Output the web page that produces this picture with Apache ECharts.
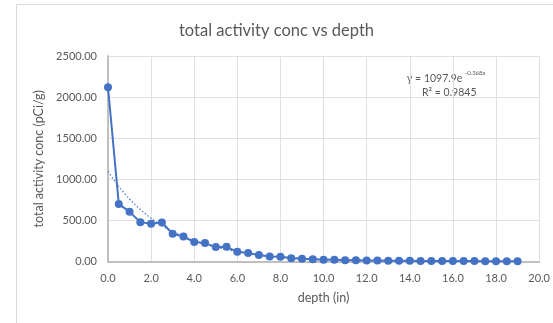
<!DOCTYPE html>
<html><head><meta charset="utf-8">
<script src="https://cdn.jsdelivr.net/npm/echarts@6/dist/echarts.min.js"></script>
<style>html,body{margin:0;padding:0;background:#fff;}#c{width:553px;height:323px;}</style>
</head><body><div id="c"></div>
<script>
const depths = [0,0.5,1,1.5,2,2.5,3,3.5,4,4.5,5,5.5,6,6.5,7,7.5,8,8.5,9,9.5,10,10.5,11,11.5,12,12.5,13,13.5,14,14.5,15,15.5,16,16.5,17,17.5,18,18.5,19];
const activity = [2120,701,604,479,458,474,337,304,236,224,175,179,118,102,78,60,58,40,32,28,22,22,16,14,12,11,10,9,8,7,7,6,6,5,5,4,4,4,3];
const trendA = 1097.9, trendB = -0.368;
const xTicks = [0,2,4,6,8,10,12,14,16,18,20];
const yTicks = [0,500,1000,1500,2000,2500];

const trend = [];
for (let i = 0; i <= 190; i++) { const x = i / 10; trend.push([x, trendA * Math.exp(trendB * x)]); }

const chart = echarts.init(document.getElementById('c'));
const txt = '#595959';
chart.setOption({
  animation: false,
  graphic: [{type:'rect', shape:{x:16.5,y:4.5,width:560,height:340}, style:{fill:'none', stroke:'#d9d9d9', lineWidth:1}},
    {type:'text', left:407, top:73, style:{text:'y = 1097.9e', font:'10.5px Lato, sans-serif', fill:txt}},
    {type:'text', left:465, top:70, style:{text:'-0.368x', font:'6px Lato, sans-serif', fill:txt}},
    {type:'text', left:422, top:87, style:{text:'R² = 0.9845', font:'10.5px Lato, sans-serif', fill:txt}}],
  title: {text:'total activity conc vs depth', left:'center', top:17, textStyle:{fontFamily:'Lato', fontSize:16.5, fontWeight:'normal', color:txt}},
  grid: {left:108, right:9.5, top:56, bottom:61.5},
  xAxis: {type:'value', min:xTicks[0], max:xTicks[xTicks.length-1], interval:2,
    name:'depth (in)', nameLocation:'middle', nameGap:30, nameTextStyle:{fontFamily:'Lato', fontSize:12.5, color:txt},
    axisLine:{lineStyle:{color:'#bfbfbf', width:2}}, axisTick:{show:false},
    axisLabel:{fontFamily:'Lato', fontSize:11, color:txt, margin:11, formatter:v=>v.toFixed(1)},
    splitLine:{lineStyle:{color:'#e0e0e0', width:1}}},
  yAxis: {type:'value', min:yTicks[0], max:yTicks[yTicks.length-1], interval:500,
    name:'total activity conc (pCi/g)', nameLocation:'middle', nameGap:58, nameTextStyle:{fontFamily:'Lato', fontSize:12.5, color:txt},
    axisLine:{show:true, lineStyle:{color:'#bfbfbf', width:2}}, axisTick:{show:false},
    axisLabel:{fontFamily:'Lato', fontSize:11, color:txt, margin:11, formatter:v=>v.toFixed(2)},
    splitLine:{lineStyle:{color:'#e0e0e0', width:1}}},
  series: [
    {type:'line', data:trend, showSymbol:false, lineStyle:{color:'#4472c4', width:1.2, type:[1.5,2]}, z:1},
    {type:'line', data:depths.map((d,i)=>[d, activity[i]]), symbol:'circle', symbolSize:8,
     itemStyle:{color:'#4472c4'}, lineStyle:{color:'#4472c4', width:2}, z:2}
  ]
});
</script></body></html>
